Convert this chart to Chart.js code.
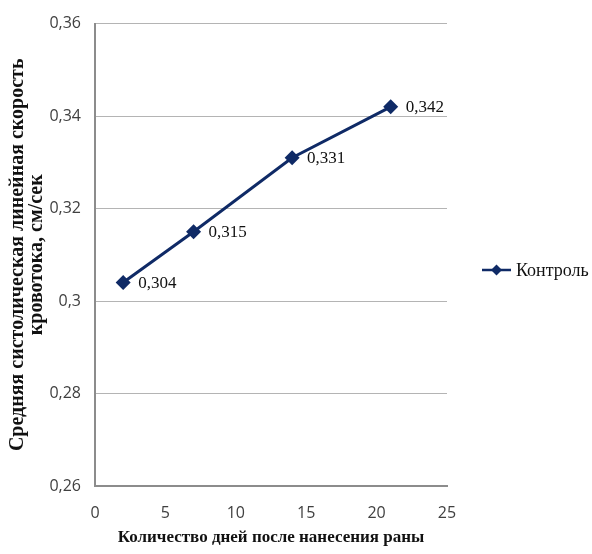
<!DOCTYPE html>
<html>
<head>
<meta charset="utf-8">
<script src="https://cdn.jsdelivr.net/npm/chart.js@4/dist/chart.umd.min.js"></script>
<style>
  html, body { margin: 0; padding: 0; background: #ffffff; }
  #wrap { width: 592px; height: 554px; position: relative; }
</style>
</head>
<body>
<div id="wrap"><canvas id="chart"></canvas></div>
<script>
// Days after wound and mean systolic linear blood-flow velocity
const days = [2, 7, 14, 21];
const velocity = [0.304, 0.315, 0.331, 0.342];
const seriesName = 'Контроль';
const xTicks = [0, 5, 10, 15, 20, 25];
const yTicks = [0.26, 0.28, 0.30, 0.32, 0.34, 0.36];
const xTitle = 'Количество дней после нанесения раны';
const yTitle = ['Средняя систолическая линейная скорость', 'кровотока, см/сек'];

const NAVY = '#0f2a66';
const SERIF = '"Liberation Serif", "Times New Roman", serif';
const SANS = '"Open Sans", "Liberation Sans", sans-serif';

const fmt = v => String(parseFloat(Number(v).toFixed(3))).replace('.', ',');

// Value labels to the right of each marker
const valueLabels = {
  id: 'valueLabels',
  afterDatasetsDraw(chart) {
    const ctx = chart.ctx;
    const meta = chart.getDatasetMeta(0);
    ctx.save();
    ctx.font = '17px ' + SERIF;
    ctx.fillStyle = '#111111';
    ctx.textAlign = 'left';
    ctx.textBaseline = 'middle';
    meta.data.forEach((pt, i) => {
      ctx.fillText(fmt(velocity[i]), pt.x + 15, pt.y + 1);
    });
    ctx.restore();
  }
};

// Legend on the right: line segment with diamond marker and series name
const sideLegend = {
  id: 'sideLegend',
  afterDraw(chart) {
    const ctx = chart.ctx;
    const y = 270;
    ctx.save();
    ctx.strokeStyle = NAVY;
    ctx.lineWidth = 2.5;
    ctx.beginPath();
    ctx.moveTo(482, y);
    ctx.lineTo(511, y);
    ctx.stroke();
    ctx.fillStyle = NAVY;
    ctx.beginPath();
    ctx.moveTo(496.5, y - 5.5);
    ctx.lineTo(502, y);
    ctx.lineTo(496.5, y + 5.5);
    ctx.lineTo(491, y);
    ctx.closePath();
    ctx.fill();
    ctx.font = '18px ' + SERIF;
    ctx.fillStyle = '#111111';
    ctx.textAlign = 'left';
    ctx.textBaseline = 'middle';
    ctx.fillText(seriesName, 516, y + 1);
    ctx.restore();
  }
};

new Chart(document.getElementById('chart'), {
  type: 'scatter',
  data: {
    datasets: [{
      label: seriesName,
      data: days.map((d, i) => ({ x: d, y: velocity[i] })),
      showLine: true,
      borderColor: NAVY,
      backgroundColor: NAVY,
      borderWidth: 3,
      pointStyle: 'rectRot',
      pointRadius: 7.5,
      pointHoverRadius: 7.5,
      pointBorderWidth: 0,
      tension: 0
    }]
  },
  options: {
    responsive: true,
    maintainAspectRatio: false,
    animation: false,
    layout: { padding: { top: 18, right: 145, bottom: 6, left: 4 } },
    plugins: {
      legend: { display: false },
      tooltip: { enabled: false }
    },
    scales: {
      x: {
        type: 'linear',
        min: 0, max: 25,
        afterBuildTicks: s => { s.ticks = xTicks.map(v => ({ value: v })); },
        afterFit: s => { s.height = 62; },
        grid: { display: false, drawTicks: false },
        border: { color: '#8c8c8c', width: 2 },
        ticks: {
          color: '#404040',
          font: { family: SANS, size: 16 },
          padding: 18,
          callback: v => String(v)
        },
        title: {
          display: true,
          text: xTitle,
          color: '#111111',
          font: { family: SERIF, size: 17, weight: 'bold' },
          padding: { top: 4, bottom: 0 }
        }
      },
      y: {
        type: 'linear',
        min: 0.26, max: 0.36,
        afterBuildTicks: s => { s.ticks = yTicks.map(v => ({ value: v })); },
        afterFit: s => { s.width = 91; },
        grid: { color: '#b4b4b4', lineWidth: 1, drawTicks: false },
        border: { color: '#8c8c8c', width: 2 },
        ticks: {
          color: '#404040',
          font: { family: SANS, size: 16 },
          padding: 14,
          callback: v => fmt(v)
        },
        title: {
          display: true,
          text: yTitle,
          color: '#111111',
          font: { family: SERIF, size: 20, weight: 'bold', lineHeight: 0.95 },
          padding: { top: 4, bottom: 4 }
        }
      }
    }
  },
  plugins: [valueLabels, sideLegend]
});
</script>
</body>
</html>
